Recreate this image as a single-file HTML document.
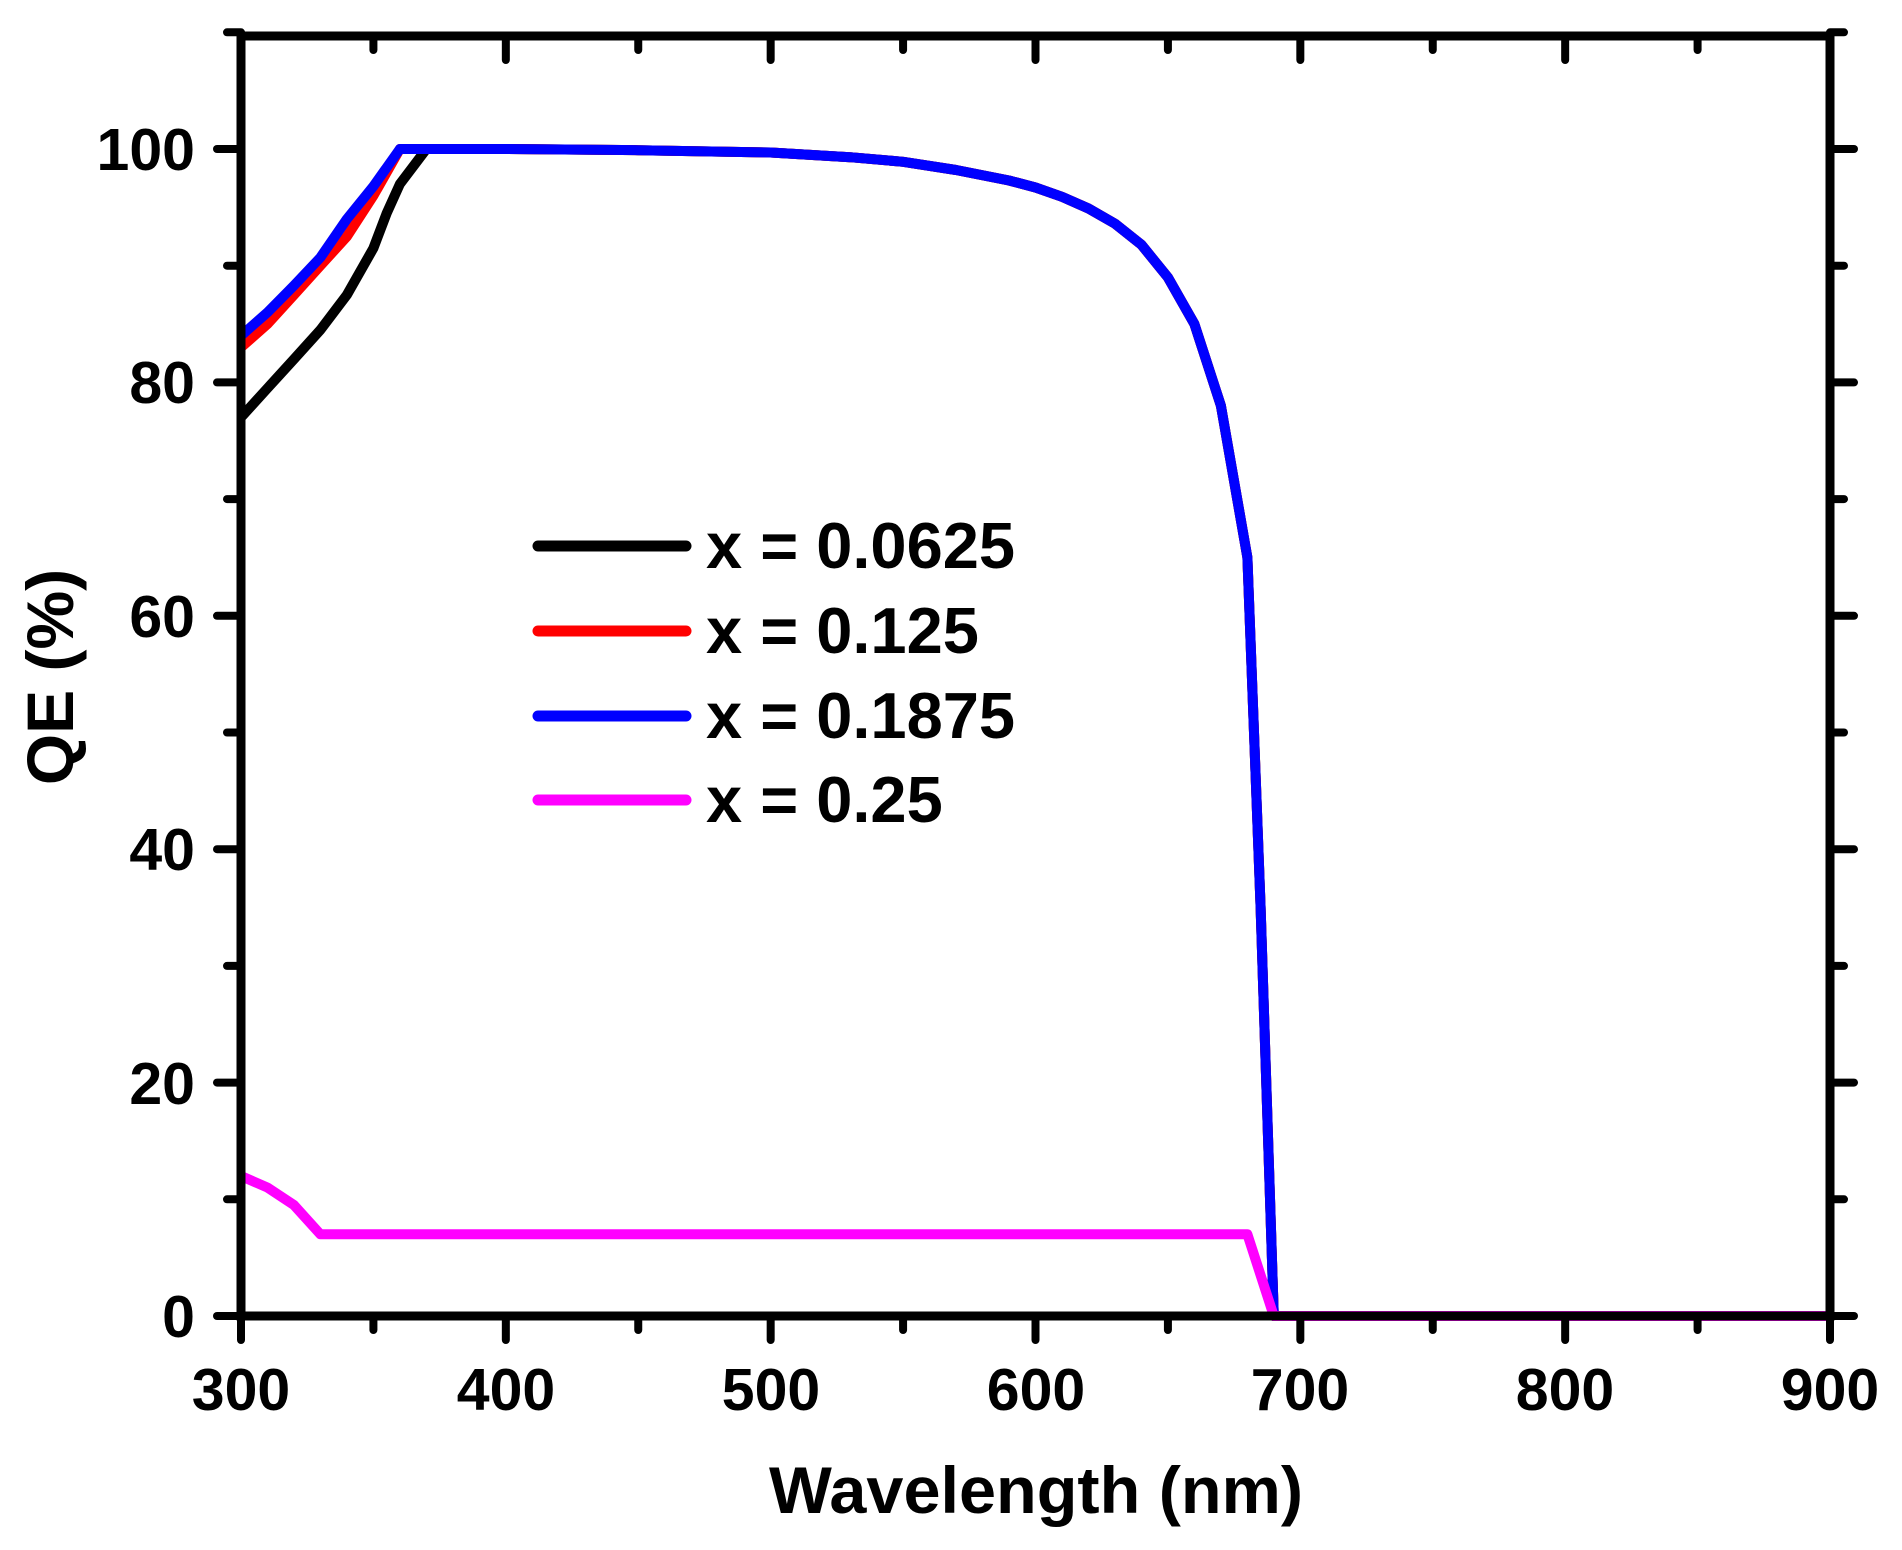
<!DOCTYPE html>
<html><head><meta charset="utf-8"><style>
html,body{margin:0;padding:0;background:#fff;}
svg{display:block;font-family:"Liberation Sans",Arial,sans-serif;font-weight:bold;}
</style></head><body>
<svg id="s" width="1902" height="1550" viewBox="0 0 1902 1550" xmlns="http://www.w3.org/2000/svg">
<g id="plot"></g>
<g stroke="#000" stroke-width="9" fill="none">
<rect x="241" y="36" width="1589" height="1280"/>
</g>
<g id="ticks" stroke="#000" stroke-width="8" stroke-linecap="round"></g>
<g font-size="59" text-anchor="middle" id="xl">
<text x="241" y="1410">300</text><text x="506" y="1410">400</text><text x="771" y="1410">500</text>
<text x="1036" y="1410">600</text><text x="1300" y="1410">700</text><text x="1565" y="1410">800</text><text x="1830" y="1410">900</text>
</g>
<g font-size="59" text-anchor="end">
<text x="195" y="1337">0</text><text x="195" y="1104">20</text><text x="195" y="870">40</text>
<text x="195" y="637">60</text><text x="195" y="403">80</text><text x="195" y="170">100</text>
</g>
<text x="1036" y="1513" font-size="66" text-anchor="middle" textLength="534" lengthAdjust="spacingAndGlyphs">Wavelength (nm)</text>
<text transform="translate(73,677) rotate(-90)" font-size="66" text-anchor="middle">QE (%)</text>
<g stroke-width="11" stroke-linecap="round">
<line x1="538" y1="546" x2="686" y2="546" stroke="#000"/>
<line x1="538" y1="631" x2="686" y2="631" stroke="#f00"/>
<line x1="538" y1="716" x2="686" y2="716" stroke="#00f"/>
<line x1="538" y1="800" x2="686" y2="800" stroke="#f0f"/>
</g>
<g font-size="65">
<text x="706" y="568">x = 0.0625</text>
<text x="706" y="653">x = 0.125</text>
<text x="706" y="738">x = 0.1875</text>
<text x="706" y="822">x = 0.25</text>
</g>
</svg>
<script>
var X=function(w){return 241+(w-300)*1589/600;},Y=function(v){return 1316-v*11.67;};
var tail=[[370,100],[400,100],[450,99.9],[500,99.7],[530,99.3],[550,98.9],[570,98.2],[590,97.3],[600,96.7],[610,95.9],[620,94.9],[630,93.6],[640,91.8],[650,89],[660,85],[670,78],[680,65],[685,35],[690,0],[900,0]];
var blk=[[300,77],[310,79.5],[320,82],[330,84.5],[340,87.5],[350,91.5],[355,94.5],[360,97],[370,100]].concat(tail.slice(1));
var red=[[300,83],[310,85],[320,87.5],[330,90],[340,92.5],[350,96],[360,100]].concat(tail);
var blu=[[300,84],[310,86],[320,88.3],[330,90.7],[340,94],[350,96.8],[360,100]].concat(tail);
var mag=[[300,12],[310,11],[320,9.5],[330,7],[680,7],[690,0],[900,0]];
var g=document.getElementById('plot'),ns='http://www.w3.org/2000/svg';
[[blk,'#000'],[red,'#f00'],[blu,'#00f'],[mag,'#f0f']].forEach(function(s){
var p=document.createElementNS(ns,'polyline');
p.setAttribute('points',s[0].map(function(q){return X(q[0]).toFixed(1)+','+Y(q[1]).toFixed(1);}).join(' '));
p.setAttribute('fill','none');p.setAttribute('stroke',s[1]);p.setAttribute('stroke-width','10');p.setAttribute('stroke-linejoin','round');
g.appendChild(p);});
var t=document.getElementById('ticks'),h='';
for(var w=300;w<=900;w+=50){var x=X(w),L=(w%100==0)?24:14;
h+='<line x1="'+x+'" y1="1316" x2="'+x+'" y2="'+(1316+L)+'"/>';
h+='<line x1="'+x+'" y1="36" x2="'+x+'" y2="'+(36+L)+'"/>';}
for(var v=0;v<=110;v+=10){var y=Y(v),L=(v%20==0)?24:14;
h+='<line x1="241" y1="'+y+'" x2="'+(241-L)+'" y2="'+y+'"/>';
h+='<line x1="1830" y1="'+y+'" x2="'+(1830+L)+'" y2="'+y+'"/>';}
t.innerHTML=h;
</script>
</body></html>
